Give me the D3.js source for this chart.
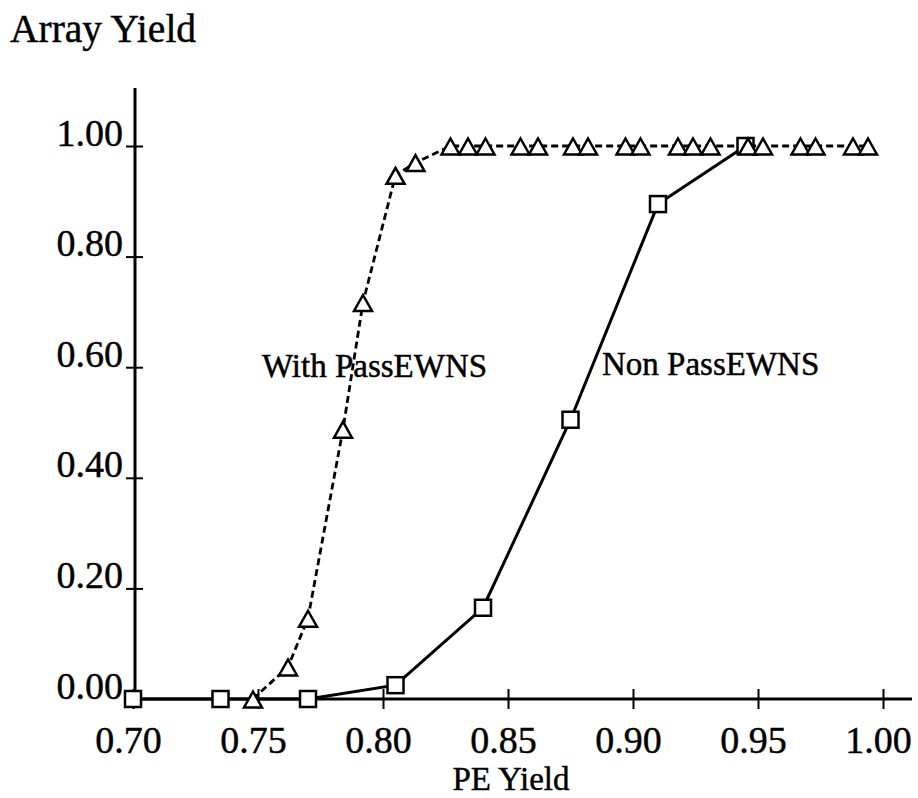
<!DOCTYPE html>
<html>
<head>
<meta charset="utf-8">
<script src="https://cdn.jsdelivr.net/npm/d3@7"></script>
<style>
  html, body { margin: 0; padding: 0; background: #fff; }
  svg { display: block; }
  text { font-family: "Liberation Serif", "Times New Roman", serif; fill: #000; stroke: #000; stroke-width: 0.45; }
</style>
</head>
<body>
<svg id="chart" width="918" height="798"></svg>
<script>
// ---- data ----
const xTicks = [0.70, 0.75, 0.80, 0.85, 0.90, 0.95, 1.00];
const yTicks = [0.00, 0.20, 0.40, 0.60, 0.80, 1.00];

const nonPassX = [0.700, 0.735, 0.770, 0.805, 0.840, 0.875, 0.910, 0.945];
const nonPassY = [0.000, 0.000, 0.000, 0.025, 0.165, 0.505, 0.895, 1.000];

const withPassX = [0.748, 0.762, 0.770, 0.784, 0.792, 0.805, 0.813, 0.827, 0.834, 0.841,
                   0.855, 0.862, 0.876, 0.882, 0.897, 0.903, 0.918, 0.924, 0.931, 0.946,
                   0.952, 0.967, 0.973, 0.988, 0.994];
const withPassY = [0.000, 0.058, 0.146, 0.488, 0.717, 0.947, 0.970, 1.000, 1.000, 1.000,
                   1.000, 1.000, 1.000, 1.000, 1.000, 1.000, 1.000, 1.000, 1.000, 1.000,
                   1.000, 1.000, 1.000, 1.000, 1.000];

const seriesLabels = [
  { text: "With PassEWNS", x: 0.7516, y: 0.582 },
  { text: "Non PassEWNS", x: 0.8876, y: 0.586 }
];

// ---- layout ----
const svg = d3.select("#chart");
const x = d3.scaleLinear().domain([0.70, 1.00]).range([133, 883]);
const y = d3.scaleLinear().domain([0, 1]).range([699, 146]);
const yAxisX = 135;
const xAxisEnd = 912;
const yAxisTop = 88;
const serif = "Liberation Serif, Times New Roman, serif";

// x axis
const gx = svg.append("g").attr("transform", `translate(0,${y(0)})`)
  .call(d3.axisBottom(x).tickValues(xTicks).tickFormat(d3.format(".2f")).tickSize(10).tickPadding(0));
gx.select(".domain").remove();
gx.selectAll(".tick line").attr("y1", -10).attr("y2", 10).attr("stroke", "#000").attr("stroke-width", 2);
gx.selectAll(".tick text").attr("font-size", 38).attr("dx", -5).attr("dy", 0).attr("y", 54)
  .attr("font-family", serif).attr("stroke", "#000").attr("stroke-width", 0.45);
svg.append("line").attr("x1", yAxisX).attr("x2", xAxisEnd).attr("y1", y(0)).attr("y2", y(0))
  .attr("stroke", "#000").attr("stroke-width", 3);

// y axis
const gy = svg.append("g").attr("transform", `translate(${yAxisX},0)`)
  .call(d3.axisLeft(y).tickValues(yTicks).tickFormat(d3.format(".2f")).tickSize(8).tickPadding(0));
gy.select(".domain").remove();
gy.selectAll(".tick line").attr("x1", -9).attr("x2", 8).attr("stroke", "#000").attr("stroke-width", 2);
gy.selectAll(".tick text").attr("font-size", 38).attr("x", -12).attr("dy", 0).attr("y", -1)
  .attr("font-family", serif).attr("stroke", "#000").attr("stroke-width", 0.45);
svg.append("line").attr("x1", yAxisX).attr("x2", yAxisX).attr("y1", yAxisTop).attr("y2", y(0))
  .attr("stroke", "#000").attr("stroke-width", 3);

// axis titles
svg.append("text").attr("x", 10).attr("y", 42).attr("font-size", 39.5).text("Array Yield");
svg.append("text").attr("x", 511).attr("y", 790).attr("font-size", 33)
  .attr("text-anchor", "middle").text("PE Yield");

// series
const nonPass = nonPassX.map((d, i) => [d, nonPassY[i]]);
const withPass = withPassX.map((d, i) => [d, withPassY[i]]);
const line = d3.line().x(d => x(d[0])).y(d => y(d[1]));

svg.append("path").datum(nonPass).attr("d", line)
  .attr("fill", "none").attr("stroke", "#000").attr("stroke-width", 3);
svg.append("path").datum(withPass).attr("d", line)
  .attr("fill", "none").attr("stroke", "#000").attr("stroke-width", 2.8)
  .attr("stroke-dasharray", "7,4");

// markers
const sq = 16;
svg.append("g").selectAll("rect").data(nonPass).join("rect")
  .attr("x", d => x(d[0]) - sq / 2).attr("y", d => y(d[1]) - sq / 2)
  .attr("width", sq).attr("height", sq)
  .attr("fill", "#fff").attr("stroke", "#000").attr("stroke-width", 2.5);

const tw = 18, th = 15;
svg.append("g").selectAll("path").data(withPass).join("path")
  .attr("transform", d => `translate(${x(d[0])},${y(d[1]) + 1})`)
  .attr("d", `M0,${-th / 2 - 1}L${tw / 2},${th / 2}L${-tw / 2},${th / 2}Z`)
  .attr("fill", "#fff").attr("stroke", "#000").attr("stroke-width", 2.5)
  .attr("stroke-linejoin", "miter");

// series labels
svg.append("g").selectAll("text").data(seriesLabels).join("text")
  .attr("x", d => x(d.x)).attr("y", d => y(d.y))
  .attr("font-size", 33).text(d => d.text);
</script>
</body>
</html>
